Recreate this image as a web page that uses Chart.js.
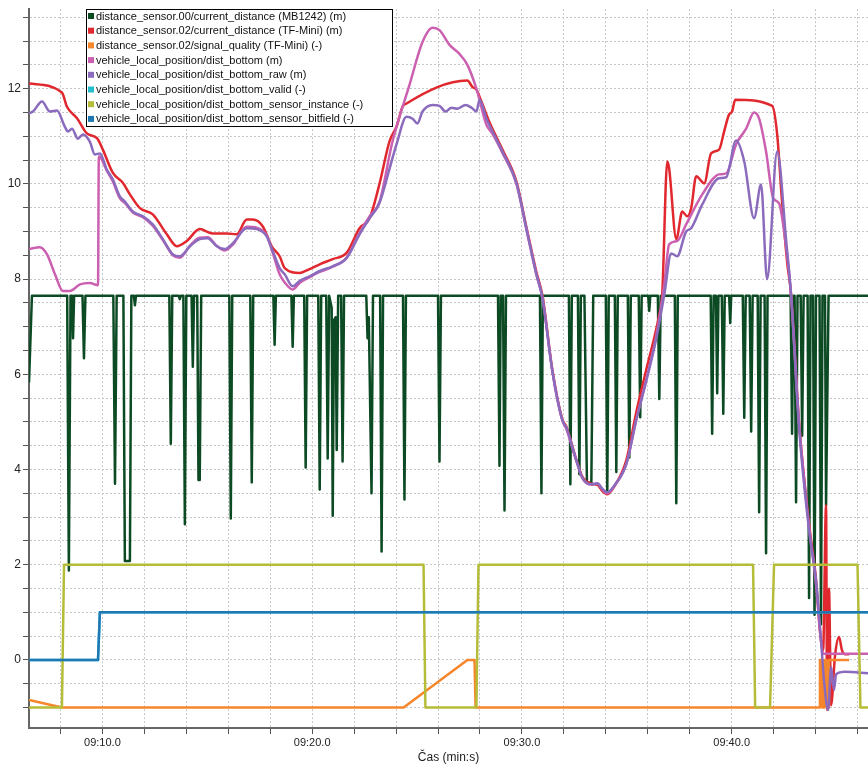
<!DOCTYPE html>
<html>
<head>
<meta charset="utf-8">
<script src="https://cdn.jsdelivr.net/npm/chart.js@4/dist/chart.umd.min.js"></script>
<style>
  html, body { margin: 0; padding: 0; background: #fff; }
  #wrap { width: 868px; height: 767px; }
</style>
</head>
<body>
<div id="wrap"><canvas id="distChart" width="868" height="767"></canvas></div>
<script>
// time in seconds (09:10.0 = 550 s), value in m or (-)
const mb1242Dist = [
  [546.50, 5.83], [546.64, 7.65],
  [548.32, 7.65], [548.40, 1.88], [548.48, 7.65], [548.55, 7.65], [548.60, 6.76], [548.65, 7.65],
  [549.05, 7.65], [549.12, 6.34], [549.19, 7.65],
  [550.52, 7.65], [550.60, 3.70], [550.68, 7.65],
  [551.00, 7.65], [551.07, 2.08], [551.31, 2.08], [551.38, 7.65],
  [551.50, 7.65], [551.55, 7.45], [551.60, 7.65],
  [553.19, 7.65], [553.26, 4.54], [553.33, 7.65],
  [553.64, 7.65], [553.69, 7.58], [553.74, 7.65],
  [553.86, 7.65], [553.93, 2.85], [554.00, 7.65],
  [554.25, 7.65], [554.31, 6.16], [554.37, 7.65],
  [554.52, 7.65], [554.58, 3.78], [554.64, 3.78], [554.71, 7.65],
  [556.05, 7.65], [556.12, 2.97], [556.19, 7.65],
  [557.05, 7.65], [557.12, 3.73], [557.19, 7.65],
  [558.15, 7.65], [558.21, 6.62], [558.27, 7.65],
  [559.01, 7.65], [559.07, 6.58], [559.13, 7.65],
  [559.62, 7.65], [559.69, 4.04], [559.76, 7.65],
  [560.29, 7.65], [560.36, 3.58], [560.43, 7.65],
  [560.67, 7.65], [560.74, 4.23], [560.81, 7.65], [560.93, 7.40], [560.98, 3.03], [561.04, 7.14],
  [561.12, 7.20], [561.17, 4.41], [561.24, 7.65], [561.38, 7.65], [561.45, 4.17], [561.52, 7.65],
  [562.58, 7.65], [562.64, 6.76], [562.70, 7.20], [562.83, 3.50], [562.90, 7.65],
  [563.24, 7.65], [563.31, 2.28], [563.38, 7.65],
  [564.33, 7.65], [564.40, 3.37], [564.47, 7.65],
  [566.00, 7.65], [566.07, 4.17], [566.14, 7.65],
  [568.86, 7.65], [568.93, 4.08], [568.99, 7.65],
  [569.10, 7.65], [569.17, 3.14], [569.24, 7.65],
  [570.86, 7.65], [570.93, 3.50], [571.00, 7.65],
  [572.24, 7.65], [572.31, 3.69], [572.38, 7.65],
  [572.67, 7.65], [572.74, 3.90], [572.81, 7.65],
  [572.98, 7.65], [573.10, 3.72], [573.31, 3.72], [573.40, 7.65],
  [574.00, 7.65], [574.07, 3.52], [574.14, 7.65],
  [574.43, 7.65], [574.50, 3.95], [574.57, 7.65],
  [575.05, 7.65], [575.12, 4.25], [575.19, 7.65],
  [575.57, 7.65], [575.64, 5.10], [575.71, 7.65],
  [576.02, 7.65], [576.07, 7.33], [576.12, 7.65],
  [576.48, 7.65], [576.55, 5.48], [576.62, 7.65],
  [577.29, 7.65], [577.36, 3.29], [577.43, 7.65],
  [579.00, 7.65], [579.07, 4.75], [579.14, 7.65],
  [579.25, 7.65], [579.31, 5.60], [579.37, 7.65],
  [579.53, 7.65], [579.60, 5.17], [579.67, 7.65],
  [579.88, 7.65], [579.93, 7.08], [579.98, 7.65],
  [580.53, 7.65], [580.60, 5.09], [580.67, 7.65],
  [580.86, 7.65], [580.93, 4.80], [581.00, 7.65],
  [581.24, 7.65], [581.31, 3.10], [581.38, 7.65],
  [581.57, 7.65], [581.64, 2.24], [581.71, 7.65],
  [582.81, 7.65], [582.88, 4.75], [582.95, 7.65],
  [583.00, 7.65], [583.07, 3.31], [583.14, 7.65],
  [583.29, 7.65], [583.36, 4.71], [583.43, 7.65],
  [583.62, 7.65], [583.69, 1.30], [583.76, 7.65],
  [583.88, 7.65], [583.95, 0.95], [584.02, 7.65],
  [584.19, 7.65], [584.26, 0.75], [584.33, 7.65],
  [584.45, 7.65], [584.50, 3.25], [584.62, 7.65], [586.52, 7.65]
];

const tfMiniDist = [
  [546.50, 12.11], [548.07, 11.92], [548.31, 11.62], [548.79, 11.38], [549.26, 11.06], [549.74, 10.96],
  [550.02, 10.72], [550.50, 10.23], [550.98, 10.02], [551.31, 9.78], [551.79, 9.49], [552.40, 9.36],
  [553.07, 8.94], [553.55, 8.69], [554.02, 8.80], [554.64, 9.05], [555.26, 8.96], [555.93, 8.96],
  [556.40, 8.94], [556.88, 9.25], [557.17, 9.25], [557.64, 9.11], [558.07, 8.69], [558.45, 8.48],
  [558.69, 8.23], [559.40, 8.13], [559.88, 8.21], [560.36, 8.31], [560.98, 8.42], [561.64, 8.55],
  [562.26, 9.07], [562.74, 9.28], [563.21, 10.00], [563.69, 10.90], [564.02, 11.20], [564.31, 11.62],
  [564.50, 11.69], [567.40, 12.17], [567.64, 12.04], [567.83, 11.98], [568.07, 11.73], [568.45, 11.30],
  [569.07, 10.72], [569.74, 10.05], [570.21, 9.10], [570.69, 8.15], [570.98, 7.65], [571.45, 6.10],
  [571.93, 5.05], [572.12, 4.90], [572.60, 4.20], [572.88, 3.85], [573.31, 3.70], [573.60, 3.68],
  [573.83, 3.55], [574.07, 3.48], [574.40, 3.64], [574.98, 4.20], [575.45, 5.20], [575.93, 6.10],
  [576.55, 7.26], [576.69, 7.68], [576.93, 10.47], [577.02, 10.32], [577.36, 8.84], [577.60, 9.38],
  [577.64, 9.42], [577.88, 9.32], [578.07, 9.49], [578.31, 10.16], [578.69, 10.01], [579.02, 10.64],
  [579.40, 10.72], [579.64, 11.10], [579.88, 11.46], [580.02, 11.52], [580.17, 11.77], [581.93, 11.64],
  [582.17, 11.04], [582.40, 9.63], [582.64, 8.38], [582.83, 7.68], [583.21, 5.00], [583.69, 2.85],
  [584.02, 1.70], [584.21, 0.60], [584.36, 0.20], [584.50, 3.25], [584.55, -1.05], [584.64, 1.50],
  [584.74, -0.95], [584.93, 0.10], [585.12, 0.48], [585.26, 0.20], [585.40, 0.12], [585.60, 0.12]
];

const tfMiniQuality = [
  [546.50, -0.84], [548.07, -1], [564.36, -1], [567.40, 0], [567.74, 0], [567.79, -1],
  [584.17, -1], [584.21, 0], [584.31, 0], [584.33, -1], [584.43, -1], [584.45, 0],
  [584.52, 0], [584.55, -1], [584.62, -1], [584.64, 0], [585.60, 0]
];

const distBottom = [
  [546.50, 8.63], [547.02, 8.67], [547.36, 8.52], [547.74, 8.10], [548.12, 7.75], [548.45, 7.75],
  [548.93, 7.89], [549.40, 7.92], [549.79, 7.87], [549.83, 10.58], [550.21, 10.28], [550.50, 10.05],
  [550.83, 9.70], [551.07, 9.60], [551.45, 9.40], [551.93, 9.30], [552.40, 9.12], [552.88, 8.82],
  [553.36, 8.50], [553.69, 8.45], [554.17, 8.70], [554.64, 8.87], [555.02, 8.88], [555.45, 8.70],
  [555.83, 8.60], [556.21, 8.72], [556.88, 9.10], [557.36, 9.08], [557.83, 8.92], [558.12, 8.55],
  [558.45, 8.10], [558.69, 7.93], [559.07, 7.78], [559.40, 7.92], [559.88, 8.04], [560.36, 8.15],
  [560.98, 8.26], [561.64, 8.45], [562.26, 8.97], [562.74, 9.32], [563.21, 9.62], [563.83, 10.89],
  [564.64, 12.08], [565.26, 12.98], [565.74, 13.28], [566.07, 13.23], [566.55, 12.92], [567.02, 12.73],
  [567.40, 12.50], [567.83, 12.00], [568.31, 11.24], [568.60, 11.05], [569.07, 10.65], [569.74, 10.00],
  [570.21, 9.05], [570.69, 8.10], [570.98, 7.60], [571.45, 6.07], [571.93, 5.03], [572.12, 4.85],
  [572.60, 4.17], [572.88, 3.82], [573.31, 3.68], [573.60, 3.70], [573.83, 3.58], [574.07, 3.50],
  [574.40, 3.65], [574.98, 4.12], [575.45, 5.05], [575.93, 5.90], [576.40, 6.80], [576.79, 7.90],
  [577.02, 8.73], [577.40, 8.80], [577.83, 9.15], [578.60, 9.78], [579.40, 10.20], [579.74, 10.22],
  [580.21, 10.83], [580.69, 11.16], [581.07, 11.50], [581.31, 11.37], [581.64, 10.68], [581.98, 9.70],
  [582.26, 9.59], [582.60, 8.65], [582.83, 7.68], [583.21, 5.00], [583.69, 2.80], [584.02, 1.60],
  [584.26, 0.40], [584.36, 0.13], [586.52, 0.13]
];

const distBottomRaw = [
  [546.50, 11.48], [546.69, 11.52], [547.12, 11.73], [547.50, 11.52], [547.83, 11.54], [548.21, 11.20],
  [548.36, 11.10], [548.55, 11.16], [548.83, 10.95], [549.07, 11.04], [549.40, 10.89], [549.64, 10.62],
  [549.88, 10.64], [550.21, 10.30], [550.50, 10.09], [550.83, 9.74], [551.07, 9.63], [551.45, 9.42],
  [551.93, 9.32], [552.40, 9.15], [552.88, 8.84], [553.36, 8.52], [553.69, 8.48], [554.17, 8.69],
  [554.64, 8.84], [555.02, 8.86], [555.45, 8.69], [555.83, 8.63], [556.21, 8.75], [556.88, 9.07],
  [557.36, 9.05], [557.83, 8.90], [558.12, 8.59], [558.45, 8.23], [558.69, 8.10], [559.07, 7.85],
  [559.40, 7.96], [559.88, 8.06], [560.36, 8.17], [560.98, 8.27], [561.64, 8.44], [562.26, 8.94],
  [562.74, 9.28], [563.21, 9.60], [563.69, 10.32], [564.02, 10.83], [564.50, 11.41], [564.79, 11.37],
  [565.02, 11.27], [565.26, 11.52], [565.74, 11.66], [566.07, 11.64], [566.36, 11.52], [566.64, 11.60],
  [566.93, 11.58], [567.31, 11.66], [567.60, 11.60], [567.83, 11.52], [567.98, 11.77], [568.31, 11.37],
  [568.60, 11.10], [569.07, 10.68], [569.74, 10.01], [570.21, 9.07], [570.69, 8.10], [570.98, 7.60],
  [571.45, 6.07], [571.93, 5.03], [572.12, 4.88], [572.60, 4.19], [572.88, 3.83], [573.31, 3.69],
  [573.60, 3.71], [573.83, 3.60], [574.07, 3.52], [574.40, 3.66], [574.98, 4.12], [575.45, 5.03],
  [575.93, 5.86], [576.40, 6.74], [576.79, 7.68], [577.12, 8.54], [577.40, 8.48], [577.83, 9.00],
  [578.07, 9.07], [578.60, 9.57], [579.40, 10.12], [579.74, 10.14], [580.21, 10.91], [580.60, 10.47],
  [581.07, 9.28], [581.40, 9.99], [581.69, 8.00], [582.17, 10.68], [582.60, 8.80], [582.83, 7.68],
  [583.21, 4.90], [583.69, 2.72], [584.02, 1.68], [584.26, 0.42], [584.40, -0.42], [584.60, -1.05],
  [584.74, -0.15], [584.88, -0.63], [584.98, -0.30], [585.40, -0.25], [586.52, -0.28]
];

const distBottomValid = [[546.50, 0], [549.79, 0], [549.88, 1], [586.52, 1]];

const sensorInstance = [
  [546.50, -1], [548.07, -1], [548.17, 2], [565.31, 2], [565.40, -1], [567.83, -1], [567.93, 2],
  [581.02, 2], [581.12, -1], [581.83, -1], [582.02, 2], [586.00, 2], [586.14, -1], [586.52, -1]
];

const sensorBitfield = [[546.50, 0], [549.79, 0], [549.88, 1], [586.52, 1]];

const seriesNames = [
  "distance_sensor.00/current_distance (MB1242) (m)",
  "distance_sensor.02/current_distance (TF-Mini) (m)",
  "distance_sensor.02/signal_quality (TF-Mini) (-)",
  "vehicle_local_position/dist_bottom (m)",
  "vehicle_local_position/dist_bottom_raw (m)",
  "vehicle_local_position/dist_bottom_valid (-)",
  "vehicle_local_position/dist_bottom_sensor_instance (-)",
  "vehicle_local_position/dist_bottom_sensor_bitfield (-)"
];
const seriesColors = ["#0c4a24", "#e0282e", "#f5862b", "#cc60b0", "#8b6bbd", "#25becf", "#b5bd38", "#1f78b4"];

const xTickValues = [548, 550, 552, 554, 556, 558, 560, 562, 564, 566, 568, 570, 572, 574, 576, 578, 580, 582, 584, 586];
const xLabelled = [550, 560, 570, 580];
const yTickValues = [-1, -0.5, 0, 0.5, 1, 1.5, 2, 2.5, 3, 3.5, 4, 4.5, 5, 5.5, 6, 6.5, 7, 7.5, 8, 8.5, 9, 9.5, 10, 10.5, 11, 11.5, 12, 12.5, 13, 13.5];
const yLabelled = [0, 2, 4, 6, 8, 10, 12];

const seriesData = [mb1242Dist, tfMiniDist, tfMiniQuality, distBottom, distBottomRaw, distBottomValid, sensorInstance, sensorBitfield];
const smoothSeries = [1, 3, 4];

function fmtTime(v) {
  const m = Math.floor(v / 60);
  const s = v - m * 60;
  return String(m).padStart(2, "0") + ":" + s.toFixed(1).padStart(4, "0");
}

// legend box drawn inside the plot, top left
const boxLegend = {
  id: "boxLegend",
  afterDraw(chart) {
    const ctx = chart.ctx;
    const x0 = 86.5, y0 = 9.5, w = 306, h = 117, rowH = 14.7;
    ctx.save();
    ctx.fillStyle = "#fff";
    ctx.fillRect(x0, y0, w, h);
    ctx.strokeStyle = "#000";
    ctx.lineWidth = 1;
    ctx.strokeRect(x0, y0, w, h);
    ctx.font = "11px 'Liberation Sans', Arial, sans-serif";
    ctx.textBaseline = "middle";
    seriesNames.forEach((name, i) => {
      const cy = 16 + i * rowH;
      ctx.fillStyle = seriesColors[i];
      ctx.fillRect(88, cy - 3, 6, 6);
      ctx.fillStyle = "#111";
      ctx.fillText(name, 96, cy + 0.5);
    });
    ctx.restore();
  }
};

const ctx = document.getElementById("distChart").getContext("2d");
const chart = new Chart(ctx, {
  type: "line",
  data: {
    datasets: seriesData.map((d, i) => ({
      label: seriesNames[i],
      data: d,
      borderColor: seriesColors[i],
      backgroundColor: seriesColors[i],
      borderWidth: 2.5,
      borderJoinStyle: "round",
      pointRadius: 0,
      fill: false,
      cubicInterpolationMode: smoothSeries.includes(i) ? "monotone" : "default",
      order: seriesData.length - i // later series on top
    }))
  },
  options: {
    responsive: false,
    animation: false,
    devicePixelRatio: 1,
    layout: { padding: { top: 7, left: 0, right: 0, bottom: 0 } },
    plugins: { legend: { display: false }, tooltip: { enabled: false } },
    scales: {
      x: {
        type: "linear",
        min: 546.5,
        max: 586.5,
        afterFit: s => { s.height = 39; },
        afterBuildTicks: s => { s.ticks = xTickValues.map(value => ({ value })); },
        ticks: {
          autoSkip: false,
          maxRotation: 0,
          padding: 2,
          color: "#222",
          font: { family: "'Liberation Sans', Arial, sans-serif", size: 11 },
          callback: v => (xLabelled.includes(v) ? fmtTime(v) : "")
        },
        grid: { color: "#c6c6c6", lineWidth: 1, tickLength: 6, tickColor: "#555", tickWidth: 1 },
        border: { color: "#666", width: 2, dash: [2, 2] },
        title: {
          display: true,
          text: "Čas (min:s)",
          color: "#222",
          font: { family: "'Liberation Sans', Arial, sans-serif", size: 12 },
          padding: { top: 2, bottom: 2 }
        }
      },
      y: {
        min: -1.43,
        max: 13.67,
        afterFit: s => { s.width = 29; },
        afterBuildTicks: s => { s.ticks = yTickValues.map(value => ({ value })); },
        ticks: {
          autoSkip: false,
          padding: 2,
          color: "#222",
          font: { family: "'Liberation Sans', Arial, sans-serif", size: 12 },
          callback: v => (yLabelled.includes(v) ? String(v) : "")
        },
        grid: { color: "#c6c6c6", lineWidth: 1, tickLength: 6, tickColor: "#555", tickWidth: 1 },
        border: { color: "#666", width: 2, dash: [2, 2] }
      }
    }
  },
  plugins: [boxLegend]
});
</script>
</body>
</html>
